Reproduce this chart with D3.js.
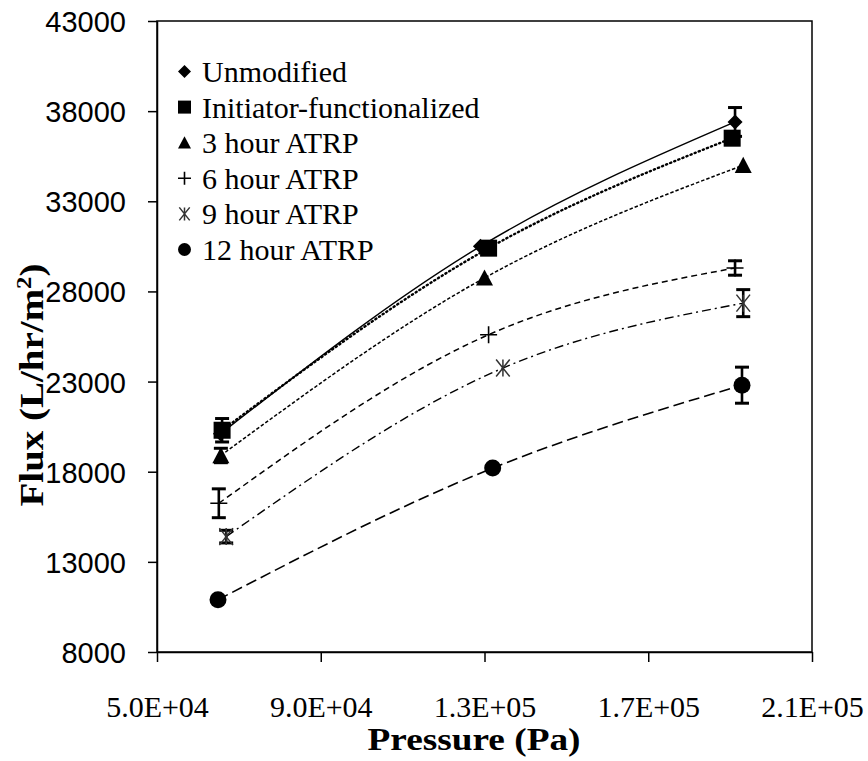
<!DOCTYPE html>
<html>
<head>
<meta charset="utf-8">
<script src="https://cdn.jsdelivr.net/npm/d3@7"></script>
<style>
  html, body { margin: 0; padding: 0; background: #fff; }
  svg { display: block; }
</style>
</head>
<body>
<svg id="chart" width="868" height="761"></svg>
<script>
// Membrane flux vs. applied pressure for each surface modification
const seriesNames = ["Unmodified", "Initiator-functionalized", "3 hour ATRP", "6 hour ATRP", "9 hour ATRP", "12 hour ATRP"];

const unmodifiedP = [6.55e4, 1.29e5, 1.912e5];
const unmodifiedFlux = [20100, 30500, 37400];
const unmodifiedErr = [0, 0, 800];

const initiatorP = [6.59e4, 1.31e5, 1.905e5];
const initiatorFlux = [20300, 30400, 36500];
const initiatorErr = [650, 0, 0];

const atrp3P = [6.56e4, 1.30e5, 1.932e5];
const atrp3Flux = [18900, 28750, 35000];
const atrp3Err = [400, 0, 0];

const atrp6P = [6.51e4, 1.31e5, 1.912e5];
const atrp6Flux = [16250, 25600, 29300];
const atrp6Err = [800, 0, 400];

const atrp9P = [6.69e4, 1.345e5, 1.932e5];
const atrp9Flux = [14400, 23750, 27350];
const atrp9Err = [350, 0, 750];

const atrp12P = [6.49e4, 1.32e5, 1.929e5];
const atrp12Flux = [10900, 18200, 22800];
const atrp12Err = [0, 0, 1000];

const xTickValues = [5.0e4, 9.0e4, 1.3e5, 1.7e5, 2.1e5];
const xTickLabels = ["5.0E+04", "9.0E+04", "1.3E+05", "1.7E+05", "2.1E+05"];
const yTickValues = [8000, 13000, 18000, 23000, 28000, 33000, 38000, 43000];
const yTickLabels = ["8000", "13000", "18000", "23000", "28000", "33000", "38000", "43000"];

// Assemble per-series point lists
const pressures = [unmodifiedP, initiatorP, atrp3P, atrp6P, atrp9P, atrp12P];
const fluxes = [unmodifiedFlux, initiatorFlux, atrp3Flux, atrp6Flux, atrp9Flux, atrp12Flux];
const errors = [unmodifiedErr, initiatorErr, atrp3Err, atrp6Err, atrp9Err, atrp12Err];
const series = seriesNames.map((name, i) => ({
  name,
  points: pressures[i].map((p, j) => ({ p, f: fluxes[i][j], e: errors[i][j] }))
}));

// Visual encoding per series
const markerKinds = ["diamond", "square", "triangle", "plus", "asterisk", "circle"];
const lineDash = [null, "1.2,3.2", "3.5,2", "6,4", "9,4,2,4", "11,5"];
const lineWidth = [1.4, 2.4, 1.5, 1.5, 1.4, 1.6];
const lineCap = ["butt", "round", "butt", "butt", "butt", "butt"];

const serif = "'Liberation Serif', 'Times New Roman', Times, serif";
const sans = "'Liberation Sans', Arial, sans-serif";

const svg = d3.select("#chart");
const plot = { left: 157, right: 812, top: 21, bottom: 652 };

const x = d3.scaleLinear().domain([5.0e4, 2.1e5]).range([plot.left, plot.right]);
const y = d3.scaleLinear().domain([8000, 43000]).range([plot.bottom, plot.top]);

svg.append("rect").attr("width", 868).attr("height", 761).attr("fill", "#fff");

// Plot frame
svg.append("rect")
  .attr("x", plot.left).attr("y", plot.top)
  .attr("width", plot.right - plot.left).attr("height", plot.bottom - plot.top)
  .attr("fill", "none").attr("stroke", "#000").attr("stroke-width", 1.5);

// X axis
const xAxis = svg.append("g")
  .attr("transform", `translate(0,${plot.bottom})`)
  .call(d3.axisBottom(x).tickValues(xTickValues).tickSize(10).tickSizeOuter(0)
    .tickFormat((d, i) => xTickLabels[i]));
xAxis.attr("font-family", serif);
xAxis.select(".domain").attr("stroke-width", 1.5);
xAxis.selectAll(".tick line").attr("stroke-width", 1.5);
xAxis.selectAll(".tick text")
  .attr("y", 65).attr("dy", 0)
  .style("font-family", serif)
  .attr("font-size", 30).attr("fill", "#000");

// Y axis
const yAxis = svg.append("g")
  .attr("transform", `translate(${plot.left},0)`)
  .call(d3.axisLeft(y).tickValues(yTickValues).tickSize(9).tickSizeOuter(0)
    .tickFormat((d, i) => yTickLabels[i]));
yAxis.attr("font-family", sans);
yAxis.select(".domain").attr("stroke-width", 1.5);
yAxis.selectAll(".tick line").attr("stroke-width", 1.5);
yAxis.selectAll(".tick text")
  .attr("x", -31).attr("dy", "0.36em")
  .style("font-family", sans)
  .attr("font-size", 29).attr("fill", "#000");

// Axis titles
svg.append("text")
  .attr("x", 474).attr("y", 750)
  .attr("text-anchor", "middle")
  .style("font-family", serif)
  .attr("font-weight", "bold").attr("font-size", 31)
  .attr("textLength", 213).attr("lengthAdjust", "spacingAndGlyphs")
  .text("Pressure (Pa)");

const yTitle = svg.append("text")
  .attr("transform", "translate(43,385) rotate(-90)")
  .attr("text-anchor", "middle")
  .style("font-family", serif)
  .attr("font-weight", "bold").attr("font-size", 33)
  .attr("textLength", 243).attr("lengthAdjust", "spacingAndGlyphs");
yTitle.append("tspan").text("Flux (L/hr/m");
yTitle.append("tspan").attr("font-size", 21).attr("dy", -12).text("2");
yTitle.append("tspan").attr("dy", 12).text(")");

// Trend curves
const line = d3.line().x(d => x(d.p)).y(d => y(d.f)).curve(d3.curveMonotoneX);
svg.append("g").selectAll("path")
  .data(series)
  .join("path")
  .attr("d", d => line(d.points))
  .attr("fill", "none")
  .attr("stroke", "#000")
  .attr("stroke-width", (d, i) => lineWidth[i])
  .attr("stroke-linecap", (d, i) => lineCap[i])
  .attr("stroke-dasharray", (d, i) => lineDash[i]);

// Marker drawing helper
function drawMarker(g, kind, cx, cy, s) {
  const h = s / 2;
  if (kind === "diamond") {
    g.append("path").attr("d", `M${cx},${cy - h}L${cx + h},${cy}L${cx},${cy + h}L${cx - h},${cy}Z`).attr("fill", "#000");
  } else if (kind === "square") {
    g.append("rect").attr("x", cx - h).attr("y", cy - h).attr("width", s).attr("height", s).attr("fill", "#000");
  } else if (kind === "triangle") {
    g.append("path").attr("d", `M${cx},${cy - h}L${cx + h},${cy + h * 0.9}L${cx - h},${cy + h * 0.9}Z`).attr("fill", "#000");
  } else if (kind === "circle") {
    g.append("circle").attr("cx", cx).attr("cy", cy).attr("r", h).attr("fill", "#000");
  } else if (kind === "plus") {
    g.append("path").attr("d", `M${cx - h},${cy}H${cx + h}M${cx},${cy - h}V${cy + h}`)
      .attr("stroke", "#000").attr("stroke-width", 1.6).attr("fill", "none");
  } else if (kind === "asterisk") {
    const d = h * 0.8;
    g.append("path").attr("d", `M${cx - d},${cy - h}L${cx + d},${cy + h}M${cx + d},${cy - h}L${cx - d},${cy + h}M${cx},${cy - h}V${cy + h}`)
      .attr("stroke", "#333").attr("stroke-width", 1.5).attr("fill", "none");
  }
}

const markerSize = [15, 17, 17, 17, 17, 17];

// Error bars
const eb = svg.append("g").attr("stroke", "#000").attr("stroke-width", 2.6);
series.forEach(s => {
  s.points.filter(pt => pt.e > 0).forEach(pt => {
    const cx = x(pt.p), y0 = y(pt.f - pt.e), y1 = y(pt.f + pt.e);
    eb.append("line").attr("x1", cx).attr("x2", cx).attr("y1", y0).attr("y2", y1);
    eb.append("line").attr("x1", cx - 7).attr("x2", cx + 7).attr("y1", y0).attr("y2", y0).attr("stroke-width", 3);
    eb.append("line").attr("x1", cx - 7).attr("x2", cx + 7).attr("y1", y1).attr("y2", y1).attr("stroke-width", 3);
  });
});

// Data markers
const mk = svg.append("g");
series.forEach((s, i) => {
  s.points.forEach(pt => drawMarker(mk, markerKinds[i], x(pt.p), y(pt.f), markerSize[i]));
});

// Legend
const legend = svg.append("g");
seriesNames.forEach((name, i) => {
  const base = 82 + i * 35.6;
  drawMarker(legend, markerKinds[i], 184.5, base - 10.5, 13);
  legend.append("text")
    .attr("x", 202).attr("y", base)
    .style("font-family", serif)
    .attr("font-size", 30).attr("fill", "#000")
    .text(name);
});
</script>
</body>
</html>
